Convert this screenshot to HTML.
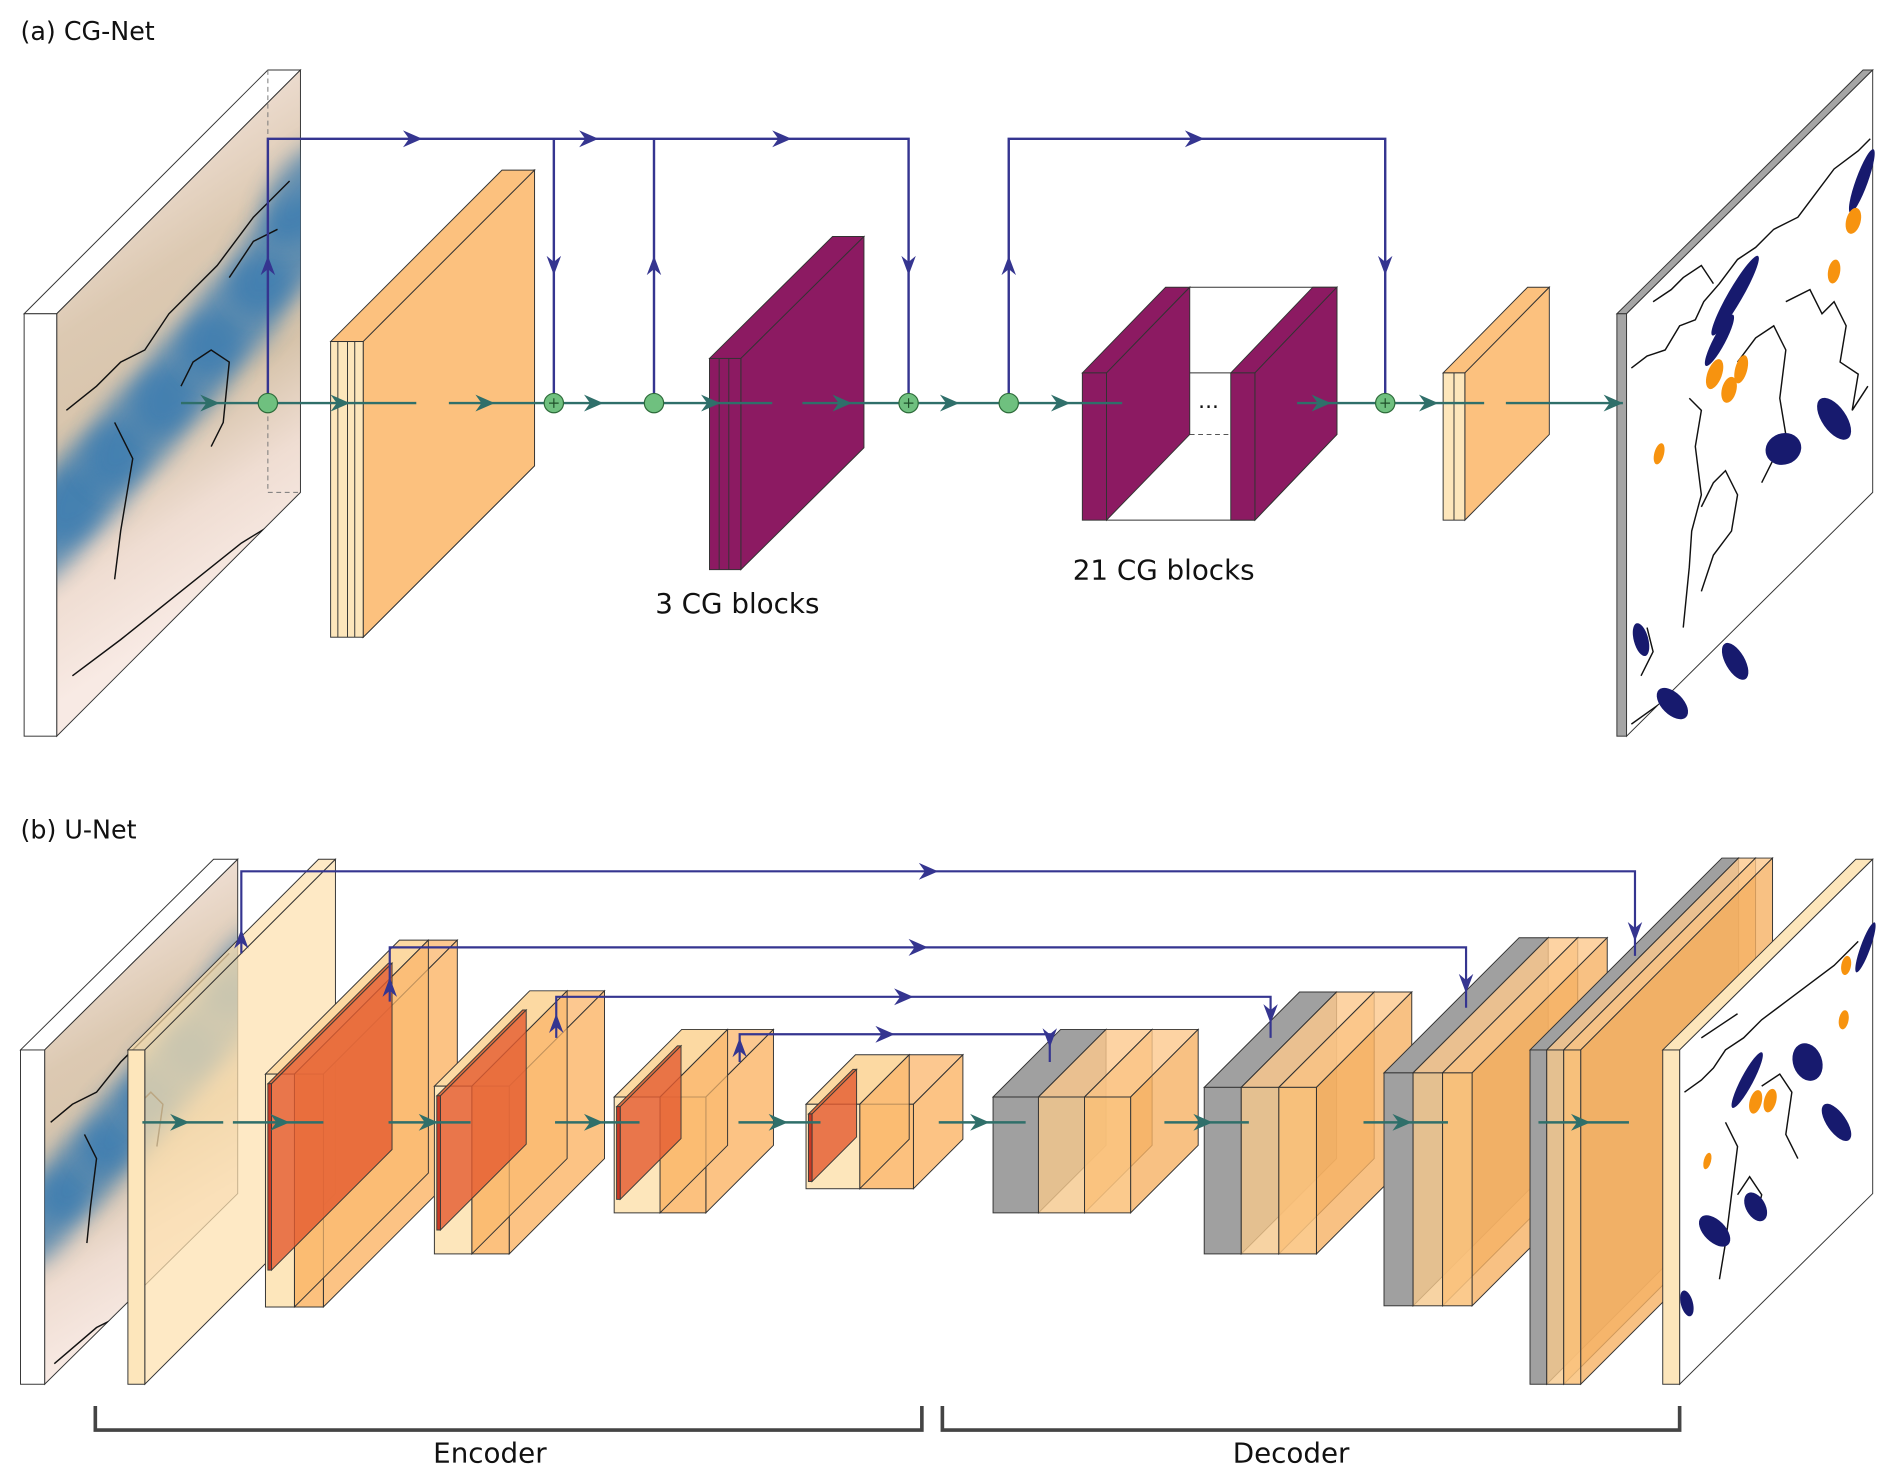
<!DOCTYPE html>
<html><head><meta charset="utf-8"><style>
html,body{margin:0;padding:0;background:#fff;}
svg{display:block;}
text{font-family:"DejaVu Sans","Liberation Sans",sans-serif;fill:#111;}
</style></head><body>
<svg id="fig" xmlns="http://www.w3.org/2000/svg" width="1892" height="1482" viewBox="0 0 1568 1228" preserveAspectRatio="none">
<defs>
<linearGradient id="mapIn" gradientUnits="userSpaceOnUse" x1="50" y1="150" x2="250" y2="450">
<stop offset="0" stop-color="#f3e3da"/><stop offset="0.3" stop-color="#dcc9b2"/><stop offset="0.6" stop-color="#d6c3aa"/><stop offset="0.8" stop-color="#efddd2"/><stop offset="1" stop-color="#f8eae4"/>
</linearGradient>
<linearGradient id="mapIn2" gradientUnits="userSpaceOnUse" x1="40" y1="780" x2="200" y2="1050">
<stop offset="0" stop-color="#f3e3da"/><stop offset="0.3" stop-color="#dcc9b2"/><stop offset="0.6" stop-color="#d6c3aa"/><stop offset="0.8" stop-color="#efddd2"/><stop offset="1" stop-color="#f8eae4"/>
</linearGradient>
<filter id="blur6" x="-50%" y="-50%" width="200%" height="200%"><feGaussianBlur stdDeviation="9"/></filter>
<clipPath id="clipA"><polygon points="47,260 249,58 249,408 47,610"/></clipPath>
<clipPath id="clipB"><polygon points="37,870 197,712 197,990 37,1147"/></clipPath>
<clipPath id="clipOA"><polygon points="1348,260 1552,58 1552,408 1348,610"/></clipPath>
<clipPath id="clipOB"><polygon points="1392,870 1552,712 1552,990 1392,1147"/></clipPath>
</defs>
<text x="17" y="33" font-size="21">(a) CG-Net</text>
<text x="17" y="695" font-size="21">(b) U-Net</text>
<text x="543" y="508" font-size="23">3 CG blocks</text>
<text x="889" y="480" font-size="23">21 CG blocks</text>
<text x="406" y="1212" font-size="23" text-anchor="middle">Encoder</text>
<text x="1070" y="1212" font-size="23" text-anchor="middle">Decoder</text>
<path d="M79,1165 V1185 H764 V1165" fill="none" stroke="#444" stroke-width="3"/>
<path d="M781,1165 V1185 H1392 V1165" fill="none" stroke="#444" stroke-width="3"/>
<g id="layer"></g>
</svg>
<script>
var NS='http://www.w3.org/2000/svg';
var root=document.getElementById('layer');
function mk(tag,attrs,name,parent){
  var el=document.createElementNS(NS,tag);
  for(var k in attrs){el.setAttribute(k,attrs[k]);}
  
  
  (parent||root).appendChild(el);
  return el;
}
function pts(a){return a.map(function(p){return p[0]+','+p[1];}).join(' ');}
function slab(s){
  var x=s[0],y=s[1],w=s[2],h=s[3],dx=s[4],dy=s[5];
  var g=mk('g',{opacity:s[9]},s[10]);
  mk('polygon',{points:pts([[x,y],[x+dx,y+dy],[x+w+dx,y+dy],[x+w,y]]),fill:s[8],stroke:'#333','stroke-width':0.8},'slab-top',g);
  mk('polygon',{points:pts([[x+w,y],[x+w+dx,y+dy],[x+w+dx,y+h+dy],[x+w,y+h]]),fill:s[7],stroke:'#333','stroke-width':0.8},'slab-side',g);
  mk('rect',{x:x,y:y,width:w,height:h,fill:s[6],stroke:'#333','stroke-width':0.8},'slab-front',g);
  return g;
}
function band(list,clip){
  var g=mk('g',{'clip-path':clip},'moisture-band-group');
  list.forEach(function(b){
    mk('ellipse',{cx:b[0],cy:b[1],rx:b[2],ry:b[3],fill:'#3a7bb0',opacity:0.75,filter:'url(#blur6)',transform:'rotate(39 '+b[0]+' '+b[1]+')'},'input-moisture-band',g);
  });
}
function coast(d,clip,name){mk('path',{d:d,fill:'none',stroke:'#111','stroke-width':1.2,'clip-path':clip},name);}

// ---------- Panel (a) CG-Net ----------
slab([20,260,27,350,202,-202,'#ffffff','url(#mapIn)','#ffffff',1,'cg-input-map']);
var bandA=[[40,440,30,60],[75,400,32,60],[115,355,32,60],[155,310,32,60],[195,262,32,60],[235,210,32,60],[255,160,28,50]];
band(bandA,'url(#clipA)');
coast('M55,340 L80,320 L100,300 L120,290 L140,260 L160,240 L180,220 L210,180 L240,150 M95,350 L110,380 L100,440 L95,480 M150,320 L160,300 L175,290 L190,300 L185,350 L175,370 M60,560 L100,530 L150,490 L200,450 L249,420 M190,230 L210,200 L230,190',"url(#clipA)",'input-coastlines');
mk('line',{x1:222,y1:58,x2:222,y2:408,stroke:'#777','stroke-width':0.8,'stroke-dasharray':'4,3'},'hidden-edge');
mk('line',{x1:222,y1:408,x2:249,y2:408,stroke:'#777','stroke-width':0.8,'stroke-dasharray':'4,3'},'hidden-edge');

slab([300,283,1,245,142,-142,'#fcc17e','#fcc17e','#fde0b0',1,'cg-conv-back']);
slab([274,283,27,245,142,-142,'#fde6bb','#fcc17e','#fcc17e',1,'cg-first-conv']);
mk('line',{x1:280,y1:283,x2:280,y2:528,stroke:'#333','stroke-width':0.8},'conv-divider');
mk('line',{x1:288,y1:283,x2:288,y2:528,stroke:'#333','stroke-width':0.8},'conv-divider');
mk('line',{x1:294,y1:283,x2:294,y2:528,stroke:'#333','stroke-width':0.8},'conv-divider');
slab([588,297,26,175,102,-101,'#8c1a62','#8c1a62','#8c1a62',1,'cg-3-blocks']);
mk('line',{x1:596,y1:297,x2:596,y2:472,stroke:'#333','stroke-width':0.8},'block-divider');
mk('line',{x1:604,y1:297,x2:604,y2:472,stroke:'#333','stroke-width':0.8},'block-divider');
mk('polygon',{points:pts([[917,309],[986,238],[1108,238],[1108,360],[1040,431],[917,431]]),fill:'#fff',stroke:'#333','stroke-width':0.8},'cg-21-blocks-box');
mk('line',{x1:917,y1:309,x2:1040,y2:309,stroke:'#333','stroke-width':0.8},'box-edge');
mk('line',{x1:986,y1:360,x2:1108,y2:360,stroke:'#555','stroke-width':0.8,'stroke-dasharray':'4,3'},'box-edge-hidden');
slab([897,309,20,122,69,-71,'#8c1a62','#8c1a62','#8c1a62',1,'cg-21-blocks-first']);
slab([1020,309,20,122,68,-71,'#8c1a62','#8c1a62','#8c1a62',1,'cg-21-blocks-last']);
mk('text',{x:993,y:338,'font-size':18},'ellipsis').textContent='...';
slab([1196,309,18,122,70,-71,'#fde6bb','#fcc17e','#fcc17e',1,'cg-output-conv']);
mk('line',{x1:1205,y1:309,x2:1205,y2:431,stroke:'#333','stroke-width':0.8},'conv-divider');
slab([1340,260,8,350,204,-202,'#a5a5a5','#ffffff','#a5a5a5',1,'cg-output-map']);

coast('M1352,305 L1365,295 L1380,290 L1392,270 L1405,265 L1412,250 L1425,235 L1440,215 L1455,205 L1470,190 L1490,180 L1505,160 L1520,140 L1540,125 L1550,115 M1370,250 L1385,240 L1395,230 L1410,220 L1420,235 M1400,330 L1410,340 L1405,370 L1410,410 L1402,440 L1400,470 L1395,520 M1410,420 L1420,400 L1430,390 L1440,410 L1435,440 L1420,460 L1410,490 M1440,300 L1455,280 L1470,270 L1480,290 L1475,330 L1480,360 L1470,380 L1460,400 M1480,250 L1500,240 L1510,260 L1520,250 L1530,270 L1525,300 L1540,310 L1535,340 L1548,320 M1352,600 L1380,580 L1410,560 L1440,530 L1470,510 L1500,490 L1520,470 L1550,450 M1360,560 L1370,540 L1365,520',"url(#clipOA)",'output-coastlines');
var navyA=[[1425,282,5,24,28],[1438,245,6,38,30],[1478,372,15,13,-20],[1520,347,10,20,-35],[1386,583,9,16,-45],[1438,548,8,17,-30],[1360,530,6,14,-15],[1543,150,5,28,20]];
var orangeA=[[1421,310,6,13,20],[1433,323,6,11,15],[1443,306,5,12,15],[1375,376,4,9,15],[1520,225,5,10,10],[1536,183,6,11,15]];
navyA.forEach(function(b){mk('ellipse',{cx:b[0],cy:b[1],rx:b[2],ry:b[3],fill:'#171a6e',transform:'rotate('+b[4]+' '+b[0]+' '+b[1]+')'},'ar-blob');});
orangeA.forEach(function(b){mk('ellipse',{cx:b[0],cy:b[1],rx:b[2],ry:b[3],fill:'#f7930f',transform:'rotate('+b[4]+' '+b[0]+' '+b[1]+')'},'tc-blob');});

var flowSegsA=[[150,345],[372,640],[665,930],[1075,1230],[1248,1345]];
flowSegsA.forEach(function(s){mk('line',{x1:s[0],y1:334,x2:s[1],y2:334,stroke:'#2f6f6a','stroke-width':2},'flow-line');});
var arrowsA=[182,290,410,500,597,706,795,887,1103,1192,1345];
function arrowR(x,y,c,name){mk('polygon',{points:pts([[x,y],[x-16,y-7],[x-11,y],[x-16,y+7]]),fill:c},name);}
function arrowD(x,y,c,name){mk('polygon',{points:pts([[x,y],[x-6,y-16],[x,y-11],[x+6,y-16]]),fill:c},name);}
function arrowU(x,y,c,name){mk('polygon',{points:pts([[x,y],[x-6,y+16],[x,y+11],[x+6,y+16]]),fill:c},name);}
arrowsA.forEach(function(x){arrowR(x,334,'#2f6f6a','flow-arrow');});
var skipA=['M222,334 V115 H753 V334','M459,115 V334','M542,334 V115','M836,334 V115 H1148 V334'];
skipA.forEach(function(d){mk('path',{d:d,fill:'none',stroke:'#353590','stroke-width':2},'skip-connection');});
[350,496,656,998].forEach(function(x){arrowR(x,115,'#353590','skip-arrow');});
[459,753,1148].forEach(function(x){arrowD(x,228,'#353590','skip-arrow-down');});
[222,542,836].forEach(function(x){arrowU(x,212,'#353590','skip-arrow-up');});
var nodesA=[[222,0],[459,1],[542,0],[753,1],[836,0],[1148,1]];
nodesA.forEach(function(n){
  mk('circle',{cx:n[0],cy:334,r:8,fill:'#6fc07f',stroke:'#2d6b3a','stroke-width':1},n[1]?'add-node':'split-node');
  if(n[1]){mk('path',{d:'M'+(n[0]-4)+',334 h8 M'+n[0]+',330 v8',stroke:'#1f4f2a','stroke-width':1},'plus-sign');}
});

// ---------- Panel (b) U-Net ----------
slab([17,870,20,277,160,-158,'#ffffff','url(#mapIn2)','#ffffff',1,'unet-input-map']);
var bandB=[[35,1010,26,50],[70,970,28,50],[105,930,28,50],[140,890,28,50],[175,850,28,50],[205,805,24,45]];
band(bandB,'url(#clipB)');
coast('M42,930 L60,915 L80,905 L100,880 L120,860 L140,840 L160,820 L190,790 M70,940 L80,960 L75,1000 L72,1030 M110,920 L125,905 L135,915 L130,950 M45,1130 L80,1100 L120,1080 L160,1050 L197,1030',"url(#clipB)",'input-coastlines');
slab([106,870,14,277,158,-158,'#fde6bb','rgba(253,225,175,0.72)','rgba(253,225,175,0.72)',1,'unet-input-conv']);

var encX=[220,360,509,668];
var encY=[890,900,909,915];
var encW=[48,62,76,89];
var encH=[193,139,96,70];
var encD=[111,79,56,41];
for(var i=0;i<4;i++){
  var x=encX[i],y=encY[i],w=encW[i],h=encH[i],d=encD[i];
  slab([x+w/2,y,w/2,h,d,-d,'#fcc17e','rgba(251,185,110,0.85)','#fcc890',1,'encoder-conv-b-'+(i+1)]);
  slab([x,y,w/2,h,d,-d,'#fde6bb','rgba(251,185,110,0.7)','#fcd9a2',1,'encoder-conv-a-'+(i+1)]);
  slab([x+2,y+8,3,h*0.8,d*0.9,-d*0.9,'#c8301c','rgba(228,92,48,0.85)','#e06a3a',0.95,'encoder-pool-'+(i+1)]);
}
var decX=[823,998,1147,1268];
var decY=[909,901,889,870];
var decW=[114,93,73,42];
var decH=[96,138,193,277];
var decD=[56,79,112,159];
for(var j=0;j<4;j++){
  var x2=decX[j],y2=decY[j],w2=decW[j],h2=decH[j],d2=decD[j];
  var gw=w2*0.33;
  slab([x2,y2,gw,h2,d2,-d2,'#a0a0a0','#a0a0a0','#a0a0a0',1,'decoder-upsample-'+(j+1)]);
  slab([x2+gw,y2,(w2-gw)/2,h2,d2,-d2,'rgba(245,200,140,0.8)','rgba(240,170,90,0.72)','rgba(252,200,140,0.8)',1,'decoder-conv-a-'+(j+1)]);
  slab([x2+gw+(w2-gw)/2,y2,(w2-gw)/2,h2,d2,-d2,'rgba(251,195,125,0.88)','rgba(246,178,100,0.8)','rgba(252,200,140,0.8)',1,'decoder-conv-b-'+(j+1)]);
}
slab([1378,870,14,277,160,-158,'#fde6bb','#ffffff','#fde6bb',1,'unet-output-map']);
coast('M1396,905 L1410,895 L1420,885 L1430,870 L1445,860 L1460,845 L1480,830 L1500,815 L1520,800 L1540,780 M1410,860 L1425,850 L1440,840 M1430,930 L1440,950 L1435,990 L1430,1030 L1425,1060 M1440,990 L1450,975 L1460,990 L1455,1010 M1460,900 L1475,890 L1485,905 L1480,940 L1490,960 M1400,1140 L1440,1110 L1480,1090 L1520,1060 L1552,1040',"url(#clipOB)",'output-coastlines');
var navyB=[[1448,895,5,26,28],[1546,785,4,22,20],[1498,880,12,16,-20],[1522,930,8,18,-35],[1421,1020,9,16,-45],[1455,1000,8,13,-30],[1398,1080,5,11,-15]];
var orangeB=[[1455,913,5,10,15],[1467,912,5,10,15],[1415,962,3,7,15],[1528,845,4,8,10],[1530,800,4,8,10]];
navyB.forEach(function(b){mk('ellipse',{cx:b[0],cy:b[1],rx:b[2],ry:b[3],fill:'#171a6e',transform:'rotate('+b[4]+' '+b[0]+' '+b[1]+')'},'ar-blob');});
orangeB.forEach(function(b){mk('ellipse',{cx:b[0],cy:b[1],rx:b[2],ry:b[3],fill:'#f7930f',transform:'rotate('+b[4]+' '+b[0]+' '+b[1]+')'},'tc-blob');});

var flowSegsB=[[118,185],[193,268],[322,390],[460,530],[612,680],[778,850],[965,1035],[1130,1200],[1275,1350]];
flowSegsB.forEach(function(s){mk('line',{x1:s[0],y1:930,x2:s[1],y2:930,stroke:'#2f6f6a','stroke-width':2},'flow-line');});
var arrowsB=[157,240,363,500,653,820,1005,1170,1318];
arrowsB.forEach(function(x){arrowR(x,930,'#2f6f6a','flow-arrow');});
var skipSX=[200,323,461,613];
var skipY=[722,785,826,857];
var skipEX=[1355,1215,1053,870];
var skipEY=[792,835,860,880];
var skipUp=[790,830,860,880];
for(var k=0;k<4;k++){
  mk('path',{d:'M'+skipSX[k]+','+skipUp[k]+' V'+skipY[k]+' H'+skipEX[k]+' V'+skipEY[k],fill:'none',stroke:'#353590','stroke-width':1.8},'skip-connection');
  arrowR((skipSX[k]+skipEX[k])/2,skipY[k],'#353590','skip-arrow');
  arrowD(skipEX[k],skipEY[k]-12,'#353590','skip-arrow-down');
  arrowU(skipSX[k],skipUp[k]-20,'#353590','skip-arrow-up');
}
</script>
</body></html>
